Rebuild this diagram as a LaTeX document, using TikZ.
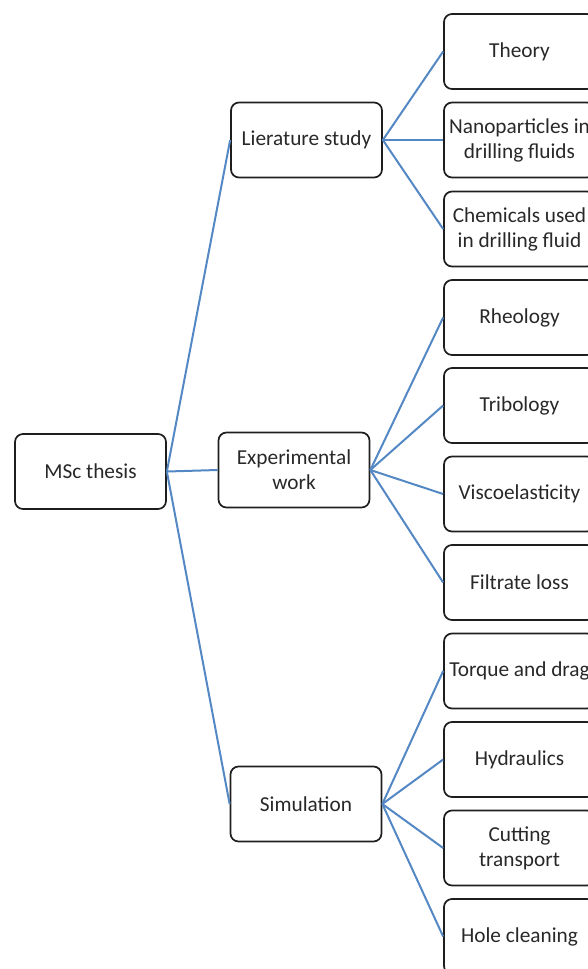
\documentclass[tikz,border=0pt]{standalone}
\usepackage{fontspec}
\setmainfont{Carlito}
\definecolor{linkblue}{RGB}{84,136,196}
\definecolor{boxline}{RGB}{30,30,30}
\definecolor{txt}{RGB}{40,40,40}
\begin{document}
\begin{tikzpicture}[x=1pt,y=-1pt,
  box/.style={draw=boxline, line width=1.7pt, rounded corners=8pt,
    minimum width=151pt, minimum height=75pt, inner sep=0pt, align=center,
    text=txt, font=\fontsize{21.3}{25}\selectfont},
  link/.style={draw=linkblue, line width=2pt}]
\useasboundingbox (0,0) rectangle (588,969);
\clip (0,0) rectangle (588,969);
% root and level 1
\node[box] (msc) at (90.5,471.5) {MSc thesis};
\node[box] (lit) at (306.5,140) {Lierature study};
\node[box] (exp) at (294,470) {Experimental\\work};
\node[box] (sim) at (306,804) {Simulation};
% leaves
\node[box] (th)  at (519.5,51.5)  {Theory};
\node[box] (nano) at (519.5,140) {Nanoparticles in\\drilling fluids};
\node[box] (chem) at (519.5,229) {Chemicals used\\in drilling fluid};
\node[box] (rheo) at (519.5,317.5) {Rheology};
\node[box] (trib) at (519.5,405.5) {Tribology};
\node[box] (visc) at (519.5,494) {Viscoelasticity};
\node[box] (filt) at (519.5,582.5) {Filtrate loss};
\node[box] (torq) at (519.5,671) {Torque and drag};
\node[box] (hydr) at (519.5,759.5) {Hydraulics};
\node[box] (cutt) at (519.5,848) {Cutting\\transport};
\node[box] (hole) at (519.5,936.5) {Hole cleaning};
% connectors
\foreach \c in {lit,exp,sim} \draw[link] (msc.east) -- (\c.west);
\foreach \c in {th,nano,chem} \draw[link] (lit.east) -- (\c.west);
\foreach \c in {rheo,trib,visc,filt} \draw[link] (exp.east) -- (\c.west);
\foreach \c in {torq,hydr,cutt,hole} \draw[link] (sim.east) -- (\c.west);
\end{tikzpicture}
\end{document}
